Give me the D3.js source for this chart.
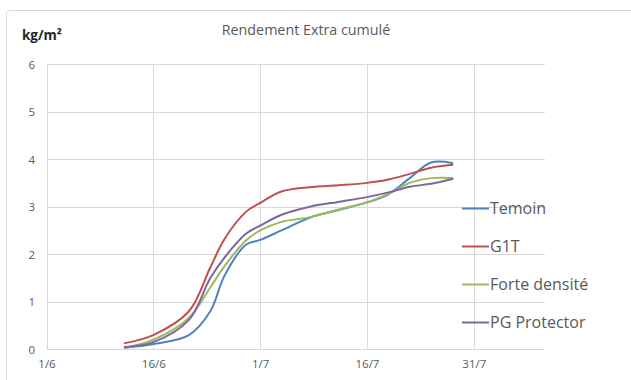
<!DOCTYPE html>
<html>
<head>
<meta charset="utf-8">
<script src="https://cdn.jsdelivr.net/npm/d3@7"></script>
<style>
  html, body { margin: 0; padding: 0; background: #fff; }
  svg { display: block; font-family: "Open Sans", "Liberation Sans", sans-serif; }
</style>
</head>
<body>
<svg id="chart" width="631" height="380"></svg>
<script>
// Harvest dates (day/month, 2015 season)
const dates = ["12/6", "16/6", "21/6", "24/6", "26/6", "29/6", "1/7", "4/7",
               "8/7", "12/7", "16/7", "19/7", "22/7", "25/7", "28/7"];

// Cumulative "Extra" yield, kg/m²
const temoin      = [0.03, 0.11, 0.30, 0.80, 1.55, 2.20, 2.30, 2.50, 2.77, 2.93, 3.09, 3.26, 3.60, 3.93, 3.92];
const g1t         = [0.13, 0.30, 0.80, 1.72, 2.32, 2.89, 3.08, 3.32, 3.41, 3.45, 3.50, 3.57, 3.69, 3.82, 3.88];
const forteDensite= [0.03, 0.20, 0.66, 1.30, 1.75, 2.29, 2.50, 2.68, 2.78, 2.94, 3.09, 3.27, 3.50, 3.60, 3.60];
const pgProtector = [0.05, 0.15, 0.62, 1.50, 1.93, 2.43, 2.60, 2.83, 3.00, 3.10, 3.20, 3.30, 3.42, 3.48, 3.58];

const seriesNames  = ["Temoin", "G1T", "Forte densité", "PG Protector"];
const seriesValues = [temoin, g1t, forteDensite, pgProtector];
const seriesColors = ["#4F81BD", "#C0504D", "#9BBB59", "#8064A2"];

const xTickLabels = ["1/6", "16/6", "1/7", "16/7", "31/7"];
const yTicks = [0, 1, 2, 3, 4, 5, 6];

const year = 2015;
const parseDay = s => { const [d, m] = s.split("/").map(Number); return new Date(year, m - 1, d); };

const svg = d3.select("#chart");

// chart frame
svg.append("rect")
  .attr("x", 6.5).attr("y", 10.5)
  .attr("width", 660).attr("height", 400)
  .attr("rx", 3)
  .attr("fill", "#fff").attr("stroke", "#d9d9d9");

const plot = { left: 46.5, right: 545, top: 64, bottom: 349.3 };

const x = d3.scaleTime()
  .domain([parseDay("1/6"), parseDay("10/8")])
  .range([plot.left, plot.right]);
const y = d3.scaleLinear().domain([0, 6]).range([plot.bottom, plot.top]);

const xTicks = xTickLabels.map(parseDay);

// gridlines
const grid = svg.append("g");
grid.selectAll("line.h").data(yTicks).join("line")
  .attr("x1", plot.left).attr("x2", plot.right)
  .attr("y1", d => Math.round(y(d)) + 0.5).attr("y2", d => Math.round(y(d)) + 0.5)
  .attr("stroke", "#d9d9d9").attr("stroke-width", 1);
grid.selectAll("line.v").data(xTicks).join("line")
  .attr("x1", d => Math.round(x(d)) + 0.5).attr("x2", d => Math.round(x(d)) + 0.5)
  .attr("y1", plot.top).attr("y2", plot.bottom)
  .attr("stroke", "#d9d9d9").attr("stroke-width", 1);

// y axis labels
const yAxis = d3.axisLeft(y).tickValues(yTicks).tickSize(0).tickPadding(0).tickFormat(d3.format("d"));
svg.append("g")
  .attr("transform", `translate(35,0)`)
  .call(yAxis)
  .call(g => g.select(".domain").remove())
  .call(g => g.selectAll("text").attr("fill", "#595959").attr("font-size", 11.5)
        .attr("font-family", "'Open Sans', sans-serif").attr("dy", "0.36em"));

// x axis labels
const xAxis = d3.axisBottom(x).tickValues(xTicks).tickSize(0).tickPadding(0)
  .tickFormat((d, i) => xTickLabels[i]);
svg.append("g")
  .attr("transform", `translate(0,${plot.bottom + 9})`)
  .call(xAxis)
  .call(g => g.select(".domain").remove())
  .call(g => g.selectAll("text").attr("fill", "#595959").attr("font-size", 11.5)
        .attr("font-family", "'Open Sans', sans-serif").attr("dy", "0.8em"));

// series lines
const line = d3.line()
  .x((d, i) => x(parseDay(dates[i])))
  .y(d => y(d))
  .curve(d3.curveCatmullRom.alpha(0.5));

svg.append("g").selectAll("path").data(seriesValues).join("path")
  .attr("d", d => line(d))
  .attr("fill", "none")
  .attr("stroke", (d, i) => seriesColors[i])
  .attr("stroke-width", 2)
  .attr("stroke-linejoin", "round")
  .attr("stroke-linecap", "round");

// legend
const legendY = [208.5, 246.5, 284.5, 322.5];
const legend = svg.append("g").selectAll("g").data(seriesNames).join("g")
  .attr("transform", (d, i) => `translate(462,${legendY[i]})`);
legend.append("line")
  .attr("x1", 0).attr("x2", 27).attr("y1", 0).attr("y2", 0)
  .attr("stroke", (d, i) => seriesColors[i]).attr("stroke-width", 2);
legend.append("text")
  .attr("x", 28).attr("y", 0).attr("dy", "0.35em")
  .attr("fill", "#595959").attr("font-size", 16)
  .text(d => d);

// title and unit
svg.append("text")
  .attr("x", 306).attr("y", 34.5)
  .attr("text-anchor", "middle")
  .attr("fill", "#595959").attr("font-size", 14.3)
  .text("Rendement Extra cumulé");

svg.append("text")
  .attr("x", 22).attr("y", 40)
  .attr("fill", "#262626").attr("font-size", 13.5).attr("font-weight", "bold")
  .text("kg/m²");
</script>
</body>
</html>
